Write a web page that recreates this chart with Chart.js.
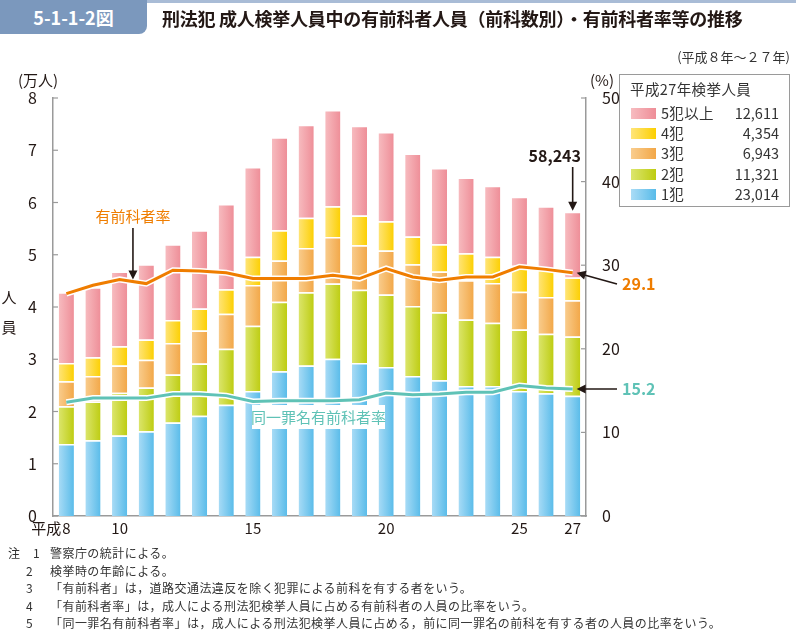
<!DOCTYPE html>
<html lang="ja">
<head>
<meta charset="utf-8">
<script src="https://cdn.jsdelivr.net/npm/chart.js@4.4.1/dist/chart.umd.min.js"></script>
<style>
  body { margin: 0; background: #fff; font-family: "Noto Sans CJK JP", "Noto Sans", sans-serif; color: #231815; }
  #wrap { position: relative; width: 796px; height: 630px; overflow: hidden; }
  #grafico { position: absolute; left: 0; top: 0; }
  .topline { position: absolute; left: 140px; top: 0; width: 656px; height: 3px; background: #a9bcd6; }
  .badge { position: absolute; left: 0; top: 0; width: 147px; height: 34px; background: #7b98bd; border-bottom-right-radius: 8px;
           color: #fff; font-weight: 700; font-size: 18px; line-height: 34px; text-align: center; }
  .titulo { position: absolute; left: 162px; top: 5px; font-size: 18px; font-weight: 700; letter-spacing: -0.25px; white-space: nowrap; }
  .periodo { position: absolute; right: 6px; top: 47px; font-size: 13px; color: #333; }
  .legenda { position: absolute; left: 619px; top: 74px; width: 169px; height: 131px; border: 1.5px solid #9a9a9a; font-size: 14.5px; color: #333; }
  .legenda .tit { position: absolute; left: 10px; top: 3px; white-space: nowrap; letter-spacing: 0.4px; }
  .legenda .linha { position: absolute; left: 0; width: 169px; height: 20px; line-height: 20px; }
  .legenda .cor { position: absolute; left: 11px; top: 5px; width: 25px; height: 11px; }
  .legenda .nome { position: absolute; left: 41px; letter-spacing: 0.3px; }
  .legenda .val { position: absolute; right: 10px; }
  .notas { position: absolute; left: 8px; top: 544px; font-size: 12px; line-height: 17.6px; color: #333; letter-spacing: 0.45px; }
  .notas div { white-space: nowrap; }
  .notas .n { display: inline-block; width: 25px; text-align: right; padding-right: 17px; }
  .notas .z { display: inline-block; width: 42px; }
</style>
</head>
<body>
<div id="wrap">
  <canvas id="grafico" width="796" height="630"></canvas>
  <div class="topline"></div>
  <div class="badge">5-1-1-2図</div>
  <div class="titulo">刑法犯 成人検挙人員中の有前科者人員（前科数別）・有前科者率等の推移</div>
  <div class="periodo">(平成８年～２７年)</div>
  <div class="legenda" id="legenda"></div>
  <div class="notas">
    <div><span class="z">注　1</span>警察庁の統計による。</div>
    <div><span class="n">2</span>検挙時の年齢による。</div>
    <div><span class="n">3</span>「有前科者」は，道路交通法違反を除く犯罪による前科を有する者をいう。</div>
    <div><span class="n">4</span>「有前科者率」は，成人による刑法犯検挙人員に占める有前科者の人員の比率をいう。</div>
    <div><span class="n">5</span>「同一罪名有前科者率」は，成人による刑法犯検挙人員に占める，前に同一罪名の前科を有する者の人員の比率をいう。</div>
  </div>
</div>
<script>
// 平成8年〜27年
const anos = ['8', '9', '10', '11', '12', '13', '14', '15', '16', '17', '18', '19', '20', '21', '22', '23', '24', '25', '26', '27'];
const rotulosX = ['8', '', '10', '', '', '', '', '15', '', '', '', '', '20', '', '', '', '', '25', '', '27'];

// 検挙人員（人）
const umCrime = [13800, 14500, 15400, 16200, 17900, 19200, 21300, 23900, 27700, 28800, 30100, 29300, 28500, 26800, 26000, 24900, 24900, 23900, 23500, 23014];
const doisCrimes = [7200, 7400, 8200, 8400, 9200, 10000, 10700, 12500, 13300, 14000, 14400, 14000, 13900, 13400, 13000, 12700, 12100, 11800, 11400, 11321];
const tresCrimes = [4800, 4900, 5200, 5300, 6000, 6300, 6700, 7800, 7900, 8500, 8900, 8500, 8400, 8000, 7800, 7500, 7600, 7200, 7000, 6943];
const quatroCrimes = [3500, 3600, 3700, 3900, 4400, 4200, 4700, 5400, 5800, 5800, 5900, 5700, 5600, 5300, 5200, 5200, 5000, 5000, 5300, 4354];
const cincoOuMais = [13500, 13400, 14300, 14400, 14500, 15000, 16300, 17200, 17800, 17800, 18400, 17200, 17100, 15900, 14600, 14500, 13600, 13200, 12100, 12611];

// 率（%）
const taxaAntecedentes = [26.6, 27.6, 28.3, 27.8, 29.4, 29.3, 29.1, 28.4, 28.4, 28.4, 28.8, 28.4, 29.6, 28.6, 28.2, 28.6, 28.6, 29.8, 29.5, 29.1];
const taxaMesmoCrime = [13.6, 14.1, 14.1, 14.1, 14.6, 14.6, 14.4, 13.7, 13.8, 13.8, 13.8, 13.9, 14.7, 14.5, 14.6, 14.8, 14.8, 15.6, 15.3, 15.2];

const cores = {
    cinco: ['#f7bcc0', '#ee8d97'],
    quatro: ['#ffe57a', '#fccf00'],
    tres: ['#f9cd8e', '#f2a747'],
    dois: ['#dce66e', '#bdcc10'],
    um: ['#aadcf6', '#58bbe9']
};
const laranja = '#ef7d00';
const turquesa = '#5fc2b6';
const cinza = '#9a9a9a';
const fonte = '"Noto Sans CJK JP", "Noto Sans", sans-serif';

function gradiente(par) {
    return (c) => {
        const xs = c.chart.scales.x;
        if (c.type !== 'data' || !xs) return par[1];
        const x = xs.getPixelForValue(c.dataIndex);
        if (!isFinite(x)) return par[1];
        const g = c.chart.ctx.createLinearGradient(x - 8, 0, x + 8, 0);
        g.addColorStop(0, par[0]);
        g.addColorStop(1, par[1]);
        return g;
    };
}

function barra(rotulo, dados, par) {
    return {
        type: 'bar', label: rotulo, data: dados, yAxisID: 'y', order: 3,
        backgroundColor: gradiente(par),
        borderColor: '#ffffff', borderWidth: { top: 1.5 }, borderSkipped: false,
        barPercentage: 0.57, categoryPercentage: 1
    };
}

function linha(dados, cor, largura, ordem) {
    return {
        type: 'line', data: dados, yAxisID: 'y2', order: ordem,
        borderColor: cor, borderWidth: largura, pointRadius: 0, tension: 0, fill: false
    };
}

function seta(ctx, x1, y1, x2, y2) {
    const ang = Math.atan2(y2 - y1, x2 - x1);
    const tam = 9;
    ctx.save();
    ctx.strokeStyle = '#231815';
    ctx.fillStyle = '#231815';
    ctx.lineWidth = 1.6;
    ctx.beginPath();
    ctx.moveTo(x1, y1);
    ctx.lineTo(x2 - Math.cos(ang) * tam * 0.8, y2 - Math.sin(ang) * tam * 0.8);
    ctx.stroke();
    ctx.beginPath();
    ctx.moveTo(x2, y2);
    ctx.lineTo(x2 - tam * Math.cos(ang) + 4.5 * Math.sin(ang), y2 - tam * Math.sin(ang) - 4.5 * Math.cos(ang));
    ctx.lineTo(x2 - tam * Math.cos(ang) - 4.5 * Math.sin(ang), y2 - tam * Math.sin(ang) + 4.5 * Math.cos(ang));
    ctx.closePath();
    ctx.fill();
    ctx.restore();
}

const anotacoes = {
    id: 'anotacoes',
    afterDatasetsDraw(chart) {
        const ctx = chart.ctx;
        ctx.save();
        ctx.fillStyle = '#ffffff';
        ctx.fillRect(252, 405, 133, 24);
        ctx.fillStyle = turquesa;
        ctx.font = '15px ' + fonte;
        ctx.textAlign = 'center';
        ctx.textBaseline = 'middle';
        ctx.fillText('同一罪名有前科者率', 318.5, 417.5);
        ctx.restore();
    },
    afterDraw(chart) {
        const ctx = chart.ctx;
        const { x, y, y2 } = chart.scales;
        const ca = chart.chartArea;
        const ult = anos.length - 1;
        ctx.save();
        // marcas para dentro
        ctx.strokeStyle = cinza;
        ctx.lineWidth = 1.2;
        y.ticks.forEach(t => {
            const py = y.getPixelForValue(t.value);
            ctx.beginPath(); ctx.moveTo(ca.left, py); ctx.lineTo(ca.left + 5, py); ctx.stroke();
        });
        y2.ticks.forEach(t => {
            const py = y2.getPixelForValue(t.value);
            ctx.beginPath(); ctx.moveTo(ca.right, py); ctx.lineTo(ca.right - 5, py); ctx.stroke();
        });

        ctx.fillStyle = '#231815';
        ctx.textBaseline = 'middle';
        ctx.font = '15px ' + fonte;
        ctx.textAlign = 'right';
        ctx.fillText('平成', x.getPixelForValue(0) - 5, 528);
        ctx.textAlign = 'left';
        ctx.fillText('(万人)', 18, 80);
        ctx.fillText('(%)', 590, 80);
        ctx.textAlign = 'center';
        ctx.fillText('人', 9, 297);
        ctx.fillText('員', 9, 327);

        // 有前科者率
        const xm = (x.getPixelForValue(2) + x.getPixelForValue(3)) / 2;
        const ym = y2.getPixelForValue((taxaAntecedentes[2] + taxaAntecedentes[3]) / 2);
        ctx.fillStyle = laranja;
        ctx.fillText('有前科者率', xm, 216);
        seta(ctx, xm, 228, xm, ym - 2);

        // total H27
        const xu = x.getPixelForValue(ult);
        const total = umCrime[ult] + doisCrimes[ult] + tresCrimes[ult] + quatroCrimes[ult] + cincoOuMais[ult];
        ctx.fillStyle = '#231815';
        ctx.font = 'bold 16px ' + fonte;
        ctx.textAlign = 'right';
        ctx.fillText(total.toLocaleString('en-US'), 581, 156);
        seta(ctx, xu, 167, xu, y.getPixelForValue(total) - 1);

        // 29.1 / 15.2
        ctx.textAlign = 'left';
        ctx.fillStyle = laranja;
        ctx.fillText(taxaAntecedentes[ult].toFixed(1), 622, 284);
        seta(ctx, 617, 284, xu + 4, y2.getPixelForValue(taxaAntecedentes[ult]));
        ctx.fillStyle = turquesa;
        const yt = y2.getPixelForValue(taxaMesmoCrime[ult]);
        ctx.fillText(taxaMesmoCrime[ult].toFixed(1), 622, yt);
        seta(ctx, 617, yt, xu + 4, yt);
        ctx.restore();
    }
};

new Chart(document.getElementById('grafico').getContext('2d'), {
    data: {
        labels: anos,
        datasets: [
            barra('1犯', umCrime, cores.um),
            barra('2犯', doisCrimes, cores.dois),
            barra('3犯', tresCrimes, cores.tres),
            barra('4犯', quatroCrimes, cores.quatro),
            barra('5犯以上', cincoOuMais, cores.cinco),
            linha(taxaAntecedentes, '#ffffff', 6, 2),
            linha(taxaMesmoCrime, '#ffffff', 6, 2),
            linha(taxaAntecedentes, laranja, 3, 1),
            linha(taxaMesmoCrime, turquesa, 3, 1)
        ]
    },
    options: {
        responsive: false,
        animation: false,
        layout: { padding: { left: 0, right: 170, top: 98, bottom: 84 } },
        plugins: { legend: { display: false }, tooltip: { enabled: false } },
        scales: {
            x: {
                stacked: true, offset: true,
                grid: { display: false, drawTicks: false },
                border: { color: cinza, width: 1.5 },
                ticks: { autoSkip: false, maxRotation: 0, padding: 3, color: '#231815', font: { family: fonte, size: 15 },
                         callback: (v, i) => rotulosX[i] },
                afterFit: (s) => { s.height = 30; }
            },
            y: {
                stacked: true, position: 'left', min: 0, max: 80000,
                grid: { display: false },
                border: { color: cinza, width: 1.5 },
                ticks: { stepSize: 10000, padding: 8, color: '#231815', font: { family: fonte, size: 16 },
                         callback: (v) => v / 10000 },
                afterFit: (s) => { s.width = 53; }
            },
            y2: {
                position: 'right', min: 0, max: 50,
                grid: { display: false },
                border: { color: cinza, width: 1.5 },
                ticks: { stepSize: 10, padding: 8, color: '#231815', font: { family: fonte, size: 16 } },
                afterFit: (s) => { s.width = 40; }
            }
        }
    },
    plugins: [anotacoes]
});

// legenda
const itens = [['5犯以上', cincoOuMais, cores.cinco], ['4犯', quatroCrimes, cores.quatro], ['3犯', tresCrimes, cores.tres],
               ['2犯', doisCrimes, cores.dois], ['1犯', umCrime, cores.um]];
let html = '<div class="tit">平成27年検挙人員</div>';
itens.forEach((it, i) => {
    const v = it[1][it[1].length - 1].toLocaleString('en-US');
    html += '<div class="linha" style="top:' + (28 + i * 20.2) + 'px"><span class="cor" style="background:linear-gradient(90deg,' +
            it[2][0] + ',' + it[2][1] + ')"></span><span class="nome">' + it[0] + '</span><span class="val">' + v + '</span></div>';
});
document.getElementById('legenda').innerHTML = html;
</script>
</body>
</html>
